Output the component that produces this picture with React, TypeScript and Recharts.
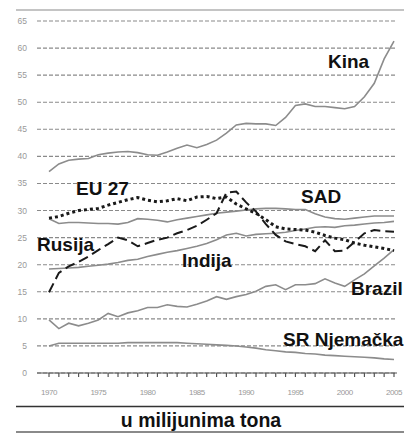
import React from "react";
import { LineChart, Line, XAxis, YAxis, CartesianGrid } from "recharts";

const years = [
  1970, 1971, 1972, 1973, 1974, 1975, 1976, 1977, 1978, 1979,
  1980, 1981, 1982, 1983, 1984, 1985, 1986, 1987, 1988, 1989,
  1990, 1991, 1992, 1993, 1994, 1995, 1996, 1997, 1998, 1999,
  2000, 2001, 2002, 2003, 2004, 2005,
];

const kina = [
  37.2, 38.6, 39.3, 39.5, 39.6, 40.3, 40.6, 40.8, 40.9, 40.7,
  40.3, 40.2, 40.8, 41.5, 42.1, 41.6, 42.2, 43.0, 44.3, 45.8,
  46.1, 46.0, 46.0, 45.7, 47.2, 49.4, 49.7, 49.2, 49.2, 49.0,
  48.8, 49.2, 51.0, 53.5, 58.0, 61.3,
];

const eu27 = [
  28.6, 28.9, 29.5, 30.0, 30.2, 30.4, 31.0, 31.5, 32.0, 32.4,
  31.9, 31.6, 31.8, 32.2, 31.8, 32.5, 32.6, 32.2, 32.5, 31.2,
  30.3, 29.5, 28.3, 27.0, 26.6, 26.5, 26.4, 26.0, 25.4, 24.9,
  24.6, 24.0, 23.6, 23.3, 23.0, 22.6,
];

const sad = [
  28.5, 27.6, 27.8, 27.8, 27.7, 27.6, 27.6, 27.5, 27.8, 28.5,
  28.4, 28.2, 27.9, 28.3, 28.6, 28.9, 29.2, 29.5, 29.7, 29.9,
  30.1, 30.3, 30.4, 30.4, 30.3, 30.2, 30.2, 29.4, 28.8, 28.5,
  28.4, 28.6, 28.8, 29.0, 29.0, 29.0,
];

const rusija = [
  14.9, 18.5, 19.7, 20.5, 21.5, 22.7, 23.8, 25.0, 24.5, 23.4,
  24.0, 24.6, 25.0, 25.8, 26.4, 27.2, 28.3, 29.5, 33.3, 33.5,
  31.5, 29.8, 27.5, 25.5, 24.3, 23.8, 23.4, 22.5, 24.5, 22.5,
  22.6, 24.2, 25.8, 26.4, 26.2, 26.1,
];

const indija = [
  19.2, 19.3, 19.4, 19.5, 19.7, 19.9, 20.1, 20.4, 20.8, 21.0,
  21.5, 21.9, 22.3, 22.6, 23.0, 23.4, 23.9, 24.6, 25.5, 25.8,
  25.3, 25.6, 25.7, 25.8, 26.0, 26.3, 26.6, 26.9, 27.0, 26.9,
  27.2, 27.3, 27.5, 27.7, 27.8, 28.0,
];

const brazil = [
  9.8, 8.2, 9.2, 8.7, 9.2, 9.8, 11.0, 10.4, 11.1, 11.5,
  12.1, 12.1, 12.6, 12.3, 12.2, 12.7, 13.3, 14.1, 13.6, 14.1,
  14.5, 15.1, 16.0, 16.3, 15.4, 16.3, 16.3, 16.5, 17.4, 16.6,
  16.0, 17.2, 18.3, 19.8, 21.2, 22.8,
];

const njemacka = [
  5.0, 5.5, 5.5, 5.5, 5.5, 5.5, 5.5, 5.5, 5.6, 5.6,
  5.6, 5.6, 5.6, 5.6, 5.5, 5.4, 5.3, 5.2, 5.1, 5.0,
  4.8, 4.6, 4.3, 4.1, 3.9, 3.8, 3.6, 3.5, 3.3, 3.2,
  3.1, 3.0, 2.9, 2.8, 2.6, 2.5,
];

const yTicks = [0, 5, 10, 15, 20, 25, 30, 35, 40, 45, 50, 55, 60, 65];

const seriesLabels = [
  { text: "Kina", x: 320, y: 60 },
  { text: "EU 27", x: 68, y: 187 },
  { text: "SAD", x: 293, y: 195 },
  { text: "Rusija", x: 29, y: 243 },
  { text: "Indija", x: 174, y: 259 },
  { text: "Brazil", x: 343, y: 287 },
  { text: "SR Njemačka", x: 275, y: 338 },
];

const title = "u milijunima tona";

const data = years.map((yr, i) => ({
  year: yr,
  kina: kina[i],
  eu27: eu27[i],
  sad: sad[i],
  rusija: rusija[i],
  indija: indija[i],
  brazil: brazil[i],
  njemacka: njemacka[i],
}));

const W = 396;
const H = 425;
const GRAY = "#8c8c8c";
const FONT = "'Liberation Sans', Arial, sans-serif";

export default function App() {
  return (
    <div style={{ position: "relative", width: W, height: H, fontFamily: FONT }}>
      <LineChart
        width={W}
        height={H}
        data={data}
        margin={{ top: 13, right: 7, bottom: 30, left: 0 }}
      >
        <CartesianGrid
          vertical={false}
          stroke="#8a8a8a"
          strokeWidth={1.1}
          strokeDasharray="4 2"
        />
        <XAxis
          dataKey="year"
          type="number"
          domain={[1970, 2005]}
          ticks={years}
          interval={0}
          padding={{ left: 12, right: 3 }}
          tickFormatter={(v: number) => (v % 5 === 0 ? String(v) : "")}
          height={30}
          tickSize={4}
          tickMargin={12}
          axisLine={{ stroke: "#555", strokeWidth: 1.2 }}
          tickLine={{ stroke: "#555", strokeWidth: 1.2 }}
          tick={{ fill: "#999", fontSize: 8, letterSpacing: -0.5, fontFamily: FONT }}
        />
        <YAxis
          domain={[0, 65]}
          ticks={yTicks}
          width={29}
          axisLine={false}
          tickLine={false}
          tickMargin={4}
          tick={{ fill: "#999", fontSize: 8.5, fontFamily: FONT }}
        />
        <Line dataKey="kina" stroke={GRAY} strokeWidth={1.6} dot={false} isAnimationActive={false} />
        <Line dataKey="sad" stroke={GRAY} strokeWidth={1.6} dot={false} isAnimationActive={false} />
        <Line dataKey="indija" stroke={GRAY} strokeWidth={1.6} dot={false} isAnimationActive={false} />
        <Line dataKey="brazil" stroke={GRAY} strokeWidth={1.6} dot={false} isAnimationActive={false} />
        <Line dataKey="njemacka" stroke={GRAY} strokeWidth={1.6} dot={false} isAnimationActive={false} />
        <Line
          dataKey="rusija"
          stroke="#1a1a1a"
          strokeWidth={2}
          strokeDasharray="10 5"
          dot={false}
          isAnimationActive={false}
        />
        <Line
          dataKey="eu27"
          stroke="#1a1a1a"
          strokeWidth={3}
          strokeDasharray="3 3"
          dot={false}
          isAnimationActive={false}
        />
      </LineChart>
      <svg
        width={W}
        height={H}
        style={{ position: "absolute", left: 0, top: 0, pointerEvents: "none" }}
      >
        <line x1={8} x2={396} y1={2} y2={2} stroke="#8a8a8a" strokeWidth={1.2} />
        {seriesLabels.map((l) => (
          <text
            key={l.text}
            x={l.x}
            y={l.y}
            fontFamily={FONT}
            fontWeight="bold"
            fontSize={19}
            fill="#111"
          >
            {l.text}
          </text>
        ))}
        <line x1={8} x2={396} y1={398.5} y2={398.5} stroke="#333" strokeWidth={1.3} />
        <text
          x={193}
          y={418.5}
          textAnchor="middle"
          fontFamily={FONT}
          fontWeight="bold"
          fontSize={19.5}
          fill="#111"
        >
          {title}
        </text>
        <line x1={8} x2={396} y1={424} y2={424} stroke="#8a8a8a" strokeWidth={2} />
      </svg>
    </div>
  );
}
